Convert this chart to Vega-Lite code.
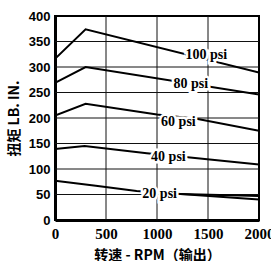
{
  "$schema": "https://vega.github.io/schema/vega-lite/v6.json",
  "width": 204,
  "height": 204,
  "autosize": "none",
  "padding": {"left": 55, "top": 16, "right": 12, "bottom": 41},
  "background": "white",
  "config": {
    "view": {"stroke": "black", "strokeWidth": 2},
    "axis": {
      "domainColor": "black",
      "domainWidth": 3,
      "tickSize": 0,
      "labelColor": "black",
      "labelFontWeight": "bold",
      "titleColor": "black",
      "titleFontWeight": "bold",
      "titleFont": "Liberation Sans Narrow, Noto Sans CJK SC",
      "titleFontSize": 14,
      "labelFlush": false,
      "labelOverlap": false
    }
  },
  "datasets": {
    "vgrid": [
      {"rpm": 500, "torque": 0, "top": 400},
      {"rpm": 1000, "torque": 0, "top": 400},
      {"rpm": 1500, "torque": 0, "top": 400}
    ],
    "hgrid": [
      {"torque": 50, "rpm": 0, "right": 2000},
      {"torque": 100, "rpm": 0, "right": 2000},
      {"torque": 150, "rpm": 0, "right": 2000},
      {"torque": 200, "rpm": 0, "right": 2000},
      {"torque": 250, "rpm": 0, "right": 2000},
      {"torque": 300, "rpm": 0, "right": 2000},
      {"torque": 350, "rpm": 0, "right": 2000}
    ],
    "curves": [
      {"series": "100 psi", "rpm": 0, "torque": 316},
      {"series": "100 psi", "rpm": 300, "torque": 374},
      {"series": "100 psi", "rpm": 2000, "torque": 289},
      {"series": "80 psi", "rpm": 0, "torque": 269},
      {"series": "80 psi", "rpm": 300, "torque": 300},
      {"series": "80 psi", "rpm": 2000, "torque": 246},
      {"series": "60 psi", "rpm": 0, "torque": 205},
      {"series": "60 psi", "rpm": 300, "torque": 228},
      {"series": "60 psi", "rpm": 1000, "torque": 207},
      {"series": "60 psi", "rpm": 1400, "torque": 198},
      {"series": "60 psi", "rpm": 2000, "torque": 175},
      {"series": "40 psi", "rpm": 0, "torque": 139},
      {"series": "40 psi", "rpm": 290, "torque": 145},
      {"series": "40 psi", "rpm": 900, "torque": 131},
      {"series": "40 psi", "rpm": 1300, "torque": 123},
      {"series": "40 psi", "rpm": 2000, "torque": 109},
      {"series": "20 psi", "rpm": 0, "torque": 77},
      {"series": "20 psi", "rpm": 400, "torque": 67},
      {"series": "20 psi", "rpm": 800, "torque": 57},
      {"series": "20 psi", "rpm": 1230, "torque": 51},
      {"series": "20 psi", "rpm": 2000, "torque": 40},
      {"series": "20 psi leader", "rpm": 1230, "torque": 51},
      {"series": "20 psi leader", "rpm": 2000, "torque": 47}
    ],
    "labels": [
      {"label": "100 psi", "rpm": 1483, "torque": 323},
      {"label": "80 psi", "rpm": 1332, "torque": 267},
      {"label": "60 psi", "rpm": 1210, "torque": 192},
      {"label": "40 psi", "rpm": 1112, "torque": 124},
      {"label": "20 psi", "rpm": 1026, "torque": 51}
    ]
  },
  "encoding": {
    "x": {
      "field": "rpm", "type": "quantitative",
      "scale": {"domain": [0, 2000], "nice": false},
      "axis": {
        "grid": false,
        "values": [0, 500, 1000, 1500, 2000],
        "format": "d",
        "title": "转速 - RPM（输出）",
        "labelFont": "Liberation Sans Narrow",
        "labelFontSize": 15,
        "labelPadding": 6,
        "titlePadding": 7
      }
    },
    "y": {
      "field": "torque", "type": "quantitative",
      "scale": {"domain": [0, 400], "nice": false},
      "axis": {
        "grid": false,
        "values": [0, 50, 100, 150, 200, 250, 300, 350, 400],
        "format": "d",
        "title": "扭矩 LB. IN.",
        "labelFont": "Liberation Sans",
        "labelFontSize": 13,
        "labelPadding": 5,
        "titlePadding": 7
      }
    }
  },
  "layer": [
    {
      "data": {"name": "vgrid"},
      "mark": {"type": "rule", "color": "#111111", "strokeWidth": 1},
      "encoding": {
        "y2": {"field": "top"}
      }
    },
    {
      "data": {"name": "hgrid"},
      "mark": {"type": "rule", "color": "#111111", "strokeWidth": 1},
      "encoding": {
        "x2": {"field": "right"}
      }
    },
    {
      "data": {"name": "curves"},
      "mark": {"type": "line", "color": "black", "strokeWidth": 2, "clip": true},
      "encoding": {
        "detail": {"field": "series"}
      }
    },
    {
      "data": {"name": "labels"},
      "mark": {"type": "text", "font": "Liberation Sans Narrow", "fontSize": 14, "fontWeight": "bold", "fill": "white", "stroke": "white", "strokeWidth": 5, "baseline": "middle", "align": "center"},
      "encoding": {
        "text": {"field": "label"}
      }
    },
    {
      "data": {"name": "labels"},
      "mark": {"type": "text", "font": "Liberation Sans Narrow", "fontSize": 14, "fontWeight": "bold", "fill": "black", "baseline": "middle", "align": "center"},
      "encoding": {
        "text": {"field": "label"}
      }
    }
  ]
}
